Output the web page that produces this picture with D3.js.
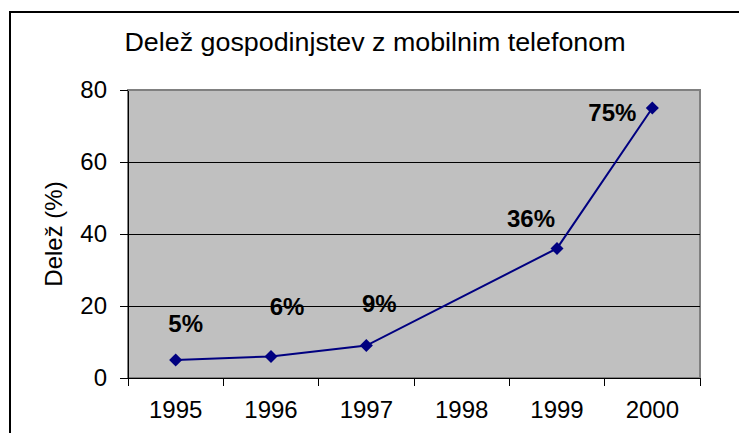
<!DOCTYPE html>
<html>
<head>
<meta charset="utf-8">
<script src="https://cdn.jsdelivr.net/npm/d3@7"></script>
<style>
  body { margin: 0; background: #fff; }
  text { font-family: "Liberation Sans", Arial, sans-serif; }
</style>
</head>
<body>
<div id="chart"></div>
<script>
// podatki
const years = ["1995", "1996", "1997", "1998", "1999", "2000"];
const shareYears = ["1995", "1996", "1997", "1999", "2000"];
const shareValues = [5, 6, 9, 36, 75];
const yTicks = [0, 20, 40, 60, 80];
const chartTitle = "Delež gospodinjstev z mobilnim telefonom";
const yTitle = "Delež (%)";

// ročni zamiki oznak (kot v izvirniku)
const labelShift = [[10, -28], [16, -41], [13, -34], [-26, -21], [-40, 13]];

const width = 739, height = 433;
const plot = { left: 128, right: 700, top: 90, bottom: 378 };

let svg = d3.select("#chart").append("svg")
    .attr("width", width)
    .attr("height", height);

// okvir
svg.append("rect")
    .attr("x", 10).attr("y", 12)
    .attr("width", 760).attr("height", 460)
    .attr("fill", "#fff")
    .attr("stroke", "#000")
    .attr("stroke-width", 2);

let x = d3.scaleBand().domain(years).range([plot.left, plot.right]).padding(0);
let y = d3.scaleLinear().domain([0, 80]).range([plot.bottom, plot.top]);

// ozadje
svg.append("rect")
    .attr("x", plot.left).attr("y", plot.top)
    .attr("width", plot.right - plot.left).attr("height", plot.bottom - plot.top)
    .attr("fill", "#c0c0c0")
    .attr("stroke", "#808080")
    .attr("stroke-width", 2);

// mreža
svg.append("g").selectAll("line")
    .data(yTicks.filter(d => d > 0 && d < 80))
    .enter().append("line")
    .attr("x1", plot.left).attr("x2", plot.right)
    .attr("y1", d => y(d) + 0.5).attr("y2", d => y(d) + 0.5)
    .attr("stroke", "#000")
    .attr("stroke-width", 1)
    .attr("shape-rendering", "crispEdges");

// os y
let yAxis = svg.append("g")
    .attr("transform", `translate(${plot.left},0)`)
    .call(d3.axisLeft(y).tickValues(yTicks).tickSize(8).tickPadding(13).tickSizeOuter(0));
yAxis.select(".domain").attr("stroke", "#000").attr("shape-rendering", "crispEdges");
yAxis.selectAll("line").attr("shape-rendering", "crispEdges");
yAxis.selectAll("text").style("font-size", "24px").attr("fill", "#000");

// os x
let xAxis = svg.append("g")
    .attr("transform", `translate(0,${plot.bottom})`)
    .call(d3.axisBottom(x).tickSize(0).tickPadding(23).tickSizeOuter(0));
xAxis.select(".domain").attr("stroke", "#000").attr("shape-rendering", "crispEdges");
xAxis.selectAll("text").style("font-size", "24px").attr("fill", "#000");

xAxis.selectAll(".bound")
    .data(years.map(d => x(d)).concat([x.range()[1]]))
    .enter().append("line")
    .attr("class", "bound")
    .attr("x1", d => d).attr("x2", d => d)
    .attr("y1", 0).attr("y2", 8)
    .attr("stroke", "#000")
    .attr("shape-rendering", "crispEdges");

// črta
let cx = d => x(d) + x.bandwidth() / 2;
let pts = shareYears.map((yr, i) => ({ yr: yr, v: shareValues[i], s: labelShift[i] }));

svg.append("path")
    .datum(pts)
    .attr("fill", "none")
    .attr("stroke", "#000080")
    .attr("stroke-width", 2)
    .attr("d", d3.line().x(d => cx(d.yr)).y(d => y(d.v)));

svg.append("g").selectAll("path")
    .data(pts)
    .enter().append("path")
    .attr("d", d3.symbol().type(d3.symbolSquare).size(85))
    .attr("transform", d => `translate(${cx(d.yr)},${y(d.v)}) rotate(45)`)
    .attr("fill", "#000080");

// oznake
svg.append("g").selectAll("text")
    .data(pts)
    .enter().append("text")
    .attr("x", d => cx(d.yr) + d.s[0])
    .attr("y", d => y(d.v) + d.s[1])
    .attr("text-anchor", "middle")
    .style("font-size", "24px")
    .style("font-weight", "bold")
    .text(d => d.v + "%");

// naslov
svg.append("text")
    .attr("x", 375)
    .attr("y", 51)
    .attr("text-anchor", "middle")
    .attr("textLength", 501)
    .attr("lengthAdjust", "spacingAndGlyphs")
    .style("font-size", "26px")
    .text(chartTitle);

svg.append("text")
    .attr("transform", "rotate(-90)")
    .attr("x", -(plot.top + plot.bottom) / 2)
    .attr("y", 62)
    .attr("text-anchor", "middle")
    .style("font-size", "24px")
    .text(yTitle);
</script>
</body>
</html>
